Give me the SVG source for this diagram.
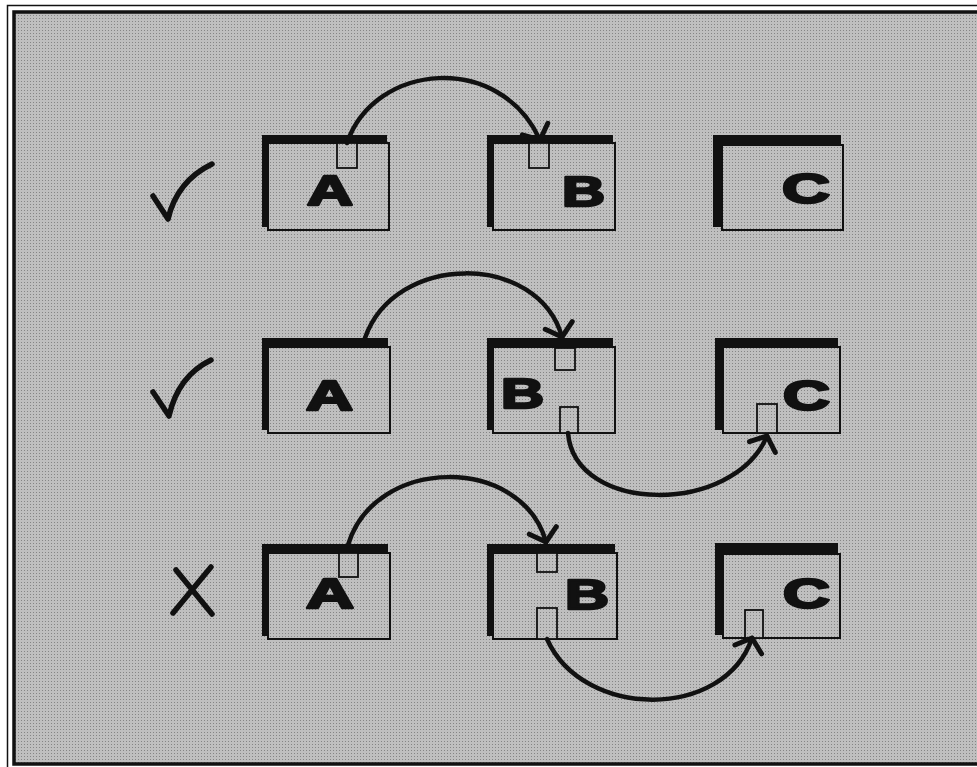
<svg xmlns="http://www.w3.org/2000/svg" width="977" height="767" viewBox="0 0 977 767">
<defs>
  <pattern id="halftone" width="3" height="3" patternUnits="userSpaceOnUse">
    <rect width="3" height="3" fill="#bfbfbf"/>
    <rect width="1" height="1" fill="#858585"/>
  </pattern>
  <marker id="vhead" markerUnits="userSpaceOnUse" markerWidth="40" markerHeight="40" viewBox="-20 -20 40 40" refX="0" refY="0" orient="auto" overflow="visible">
    <path d="M-12,-14 L0,0 L-12,14" fill="none" stroke="#111" stroke-width="5" stroke-linecap="round" stroke-linejoin="round"/>
  </marker>
  <style>
    .shadow { fill: #111; }
    .front { fill: url(#halftone); stroke: #111; stroke-width: 2; }
    .port { fill: url(#halftone); stroke: #111; stroke-width: 1.8; }
    .lbl { font-family: "Liberation Sans", Arial, sans-serif; font-weight: 900; font-size: 43px; fill: #111; stroke: #111; stroke-width: 2.5; stroke-linejoin: round; }
    .conn { fill: none; stroke: #111; stroke-width: 4.5; stroke-linecap: round; marker-end: url(#vhead); }
    .mark { fill: none; stroke: #111; stroke-width: 5.5; stroke-linecap: round; stroke-linejoin: round; }
  </style>
</defs>

<!-- page and frame -->
<rect x="0" y="0" width="977" height="767" fill="#ffffff"/>
<rect x="14" y="12" width="980" height="752" fill="url(#halftone)"/>
<rect x="7.5" y="5.5" width="990" height="770" fill="none" stroke="#111" stroke-width="1.5"/>
<rect x="14" y="12" width="980" height="752" fill="none" stroke="#111" stroke-width="3.5"/>

<!-- row 1 -->
<g id="check1">
  <path class="mark" d="M153,196 L168,219 Q177,181 212,164"/>
</g>
<g id="r1-A">
  <rect class="shadow" x="262" y="135" width="125" height="92"/>
  <rect class="front" x="268" y="143" width="121" height="87"/>
  <rect class="port" x="337" y="143" width="20" height="25"/>
  <text class="lbl" x="307" y="205" textLength="46" lengthAdjust="spacingAndGlyphs">A</text>
</g>
<g id="r1-B">
  <rect class="shadow" x="487" y="135" width="126" height="92"/>
  <rect class="front" x="493" y="143" width="122" height="87"/>
  <rect class="port" x="529" y="143" width="20" height="25"/>
  <text class="lbl" x="562" y="206" textLength="43" lengthAdjust="spacingAndGlyphs">B</text>
</g>
<g id="r1-C">
  <rect class="shadow" x="713" y="135" width="128" height="92"/>
  <rect class="front" x="722" y="145" width="121" height="85"/>
  <text class="lbl" x="782" y="203" textLength="48" lengthAdjust="spacingAndGlyphs">C</text>
</g>

<!-- row 2 -->
<g id="check2">
  <path class="mark" d="M153,392 L169,416 Q178,376 211,360"/>
</g>
<g id="r2-A">
  <rect class="shadow" x="262" y="338" width="126" height="92"/>
  <rect class="front" x="268" y="347" width="122" height="86"/>
  <text class="lbl" x="306" y="410" textLength="47" lengthAdjust="spacingAndGlyphs">A</text>
</g>
<g id="r2-B">
  <rect class="shadow" x="487" y="338" width="126" height="92"/>
  <rect class="front" x="493" y="347" width="122" height="86"/>
  <rect class="port" x="555" y="348" width="20" height="22"/>
  <rect class="port" x="560" y="407" width="18" height="26"/>
  <text class="lbl" x="501" y="408" textLength="43" lengthAdjust="spacingAndGlyphs">B</text>
</g>
<g id="r2-C">
  <rect class="shadow" x="715" y="338" width="123" height="92"/>
  <rect class="front" x="723" y="347" width="117" height="86"/>
  <rect class="port" x="757" y="404" width="20" height="29"/>
  <text class="lbl" x="783" y="410" textLength="47" lengthAdjust="spacingAndGlyphs">C</text>
</g>

<!-- row 3 -->
<g id="cross3">
  <path class="mark" d="M211,567 L173,613 M176,570 L212,614"/>
</g>
<g id="r3-A">
  <rect class="shadow" x="262" y="544" width="126" height="92"/>
  <rect class="front" x="268" y="553" width="122" height="86"/>
  <text class="lbl" x="306" y="608" textLength="48" lengthAdjust="spacingAndGlyphs">A</text>
  <rect class="port" x="339" y="553" width="19" height="24"/>
</g>
<g id="r3-B">
  <rect class="shadow" x="487" y="544" width="128" height="92"/>
  <rect class="front" x="493" y="553" width="124" height="86"/>
  <rect class="port" x="537" y="553" width="20" height="19"/>
  <rect class="port" x="537" y="608" width="20" height="31"/>
  <text class="lbl" x="565" y="609" textLength="44" lengthAdjust="spacingAndGlyphs">B</text>
</g>
<g id="r3-C">
  <rect class="shadow" x="715" y="543" width="123" height="92"/>
  <rect class="front" x="723" y="554" width="117" height="84"/>
  <rect class="port" x="745" y="610" width="18" height="28"/>
  <text class="lbl" x="783" y="608" textLength="47" lengthAdjust="spacingAndGlyphs">C</text>
</g>

<!-- connectors -->
<g id="connectors">
  <path class="conn" d="M347,143 C375,62 500,52 540,140"/>
  <path class="conn" d="M365,338 C395,252 538,252 562,337"/>
  <path class="conn" d="M568,433 C575,515 734,515 767,436"/>
  <path class="conn" d="M348,545 C375,455 522,455 546,542"/>
  <path class="conn" d="M547,639 C583,720 725,720 752,638"/>
</g>
</svg>
